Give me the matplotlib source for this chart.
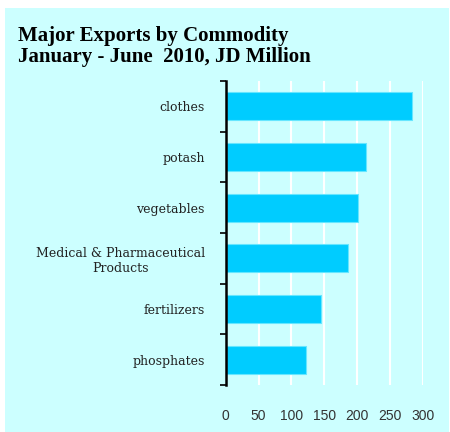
import matplotlib.pyplot as plt
from matplotlib.patches import Rectangle

# data
categories = ['phosphates', 'fertilizers', 'Medical & Pharmaceutical\nProducts',
              'vegetables', 'potash', 'clothes']
values = [122, 145, 186, 201, 213, 284]
xticks = [0, 50, 100, 150, 200, 250, 300]

bg = '#CCFFFF'

fig = plt.figure(figsize=(4.5, 4.32), dpi=100)
fig.patches.append(Rectangle((5 / 450, 0), 444 / 450, 424 / 432,
                             transform=fig.transFigure, facecolor=bg,
                             edgecolor='none', zorder=-5))

ax = fig.add_axes([225.7 / 450, 47 / 432, (423 - 225.7) / 450, 304 / 432])
ax.set_facecolor(bg)
ax.set_zorder(2)

y = range(len(categories))
ax.barh(y, values, height=0.55, color='#00CCFF', edgecolor='#66E6FF',
        linewidth=0.8, zorder=3)

ax.set_xlim(0, 300)
ax.set_ylim(-0.5, len(categories) - 0.5)
ax.set_xticks(xticks)
ax.set_xticklabels([str(v) for v in xticks], fontsize=10, color='#333333',
                   family='Liberation Sans')
ax.tick_params(axis='x', length=0, pad=17)
ax.grid(axis='x', color='white', linewidth=1.5, zorder=1)

ax.set_yticks(list(y))
ax.set_yticklabels(categories, family='DejaVu Serif', fontsize=9,
                   color='#222222', multialignment='center')
ax.tick_params(axis='y', which='major', length=0, pad=15)
ax.set_yticks([i - 0.5 for i in range(len(categories) + 1)], minor=True)
ax.tick_params(axis='y', which='minor', length=4, width=1.2, color='black',
               direction='out')

for s in ['top', 'right', 'bottom']:
    ax.spines[s].set_visible(False)
ax.spines['left'].set_linewidth(1.8)
ax.spines['left'].set_zorder(4)

fig.text(18 / 450, 1 - 62 / 432, 'Major Exports by Commodity\nJanuary - June  2010, JD Million',
         family='Liberation Serif', fontweight='bold', fontsize=15,
         va='baseline', ha='left', linespacing=1.05)

fig.savefig('out.png', dpi=100, facecolor='white')
